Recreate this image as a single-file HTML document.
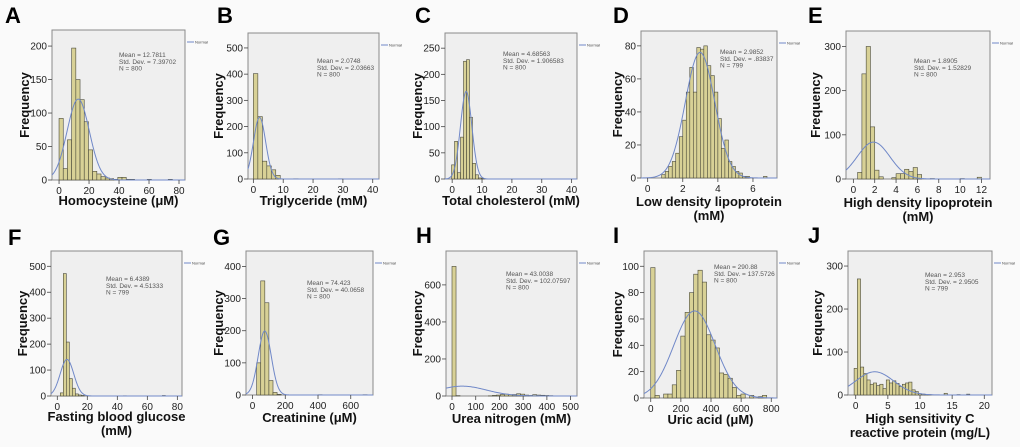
<!DOCTYPE html>
<html><head><meta charset="utf-8">
<style>
html,body{margin:0;padding:0;background:#fafafa;}
svg{display:block;font-family:"Liberation Sans",Arial,sans-serif;}
</style></head>
<body>
<svg id="fig" width="1020" height="447" viewBox="0 0 1020 447" xmlns="http://www.w3.org/2000/svg"></svg>
<script>
// ---- data arrays ----
const countsA = [92,17,60,197,150,120,87,45,13,9,5,3,2,1,4,4,1,1,0,0,0,1,0,0,0,0,1];
const countsB = [402,238,68,50,35,14,0,0,0,1,0,0,0,0,0,0,0,0,0,1];
const countsC = [27,72,12,80,225,228,118,30,8,2,1];
const countsD = [2,4,7,10,15,25,35,52,67,52,79,78,80,68,62,52,36,18,23,10,7,4,3,1,1,0,0,0,0,1];
const countsE = [15,238,300,118,20,5,0,0,3,12,12,22,17,26,10,0,0,1,0,0,0,0,0,0,1,0,0,0,4];
const countsF = [12,472,208,67,30,8,4,2,0,0,0,0,0,0,0,0,0,0,0,0,0,1,0,0,0,0,0,0,0,0,0,0,0,0,2];
const countsG = [100,355,287,45,8,2,0,0,0,0,0,0,0,0,0,1,0,0,0,0,0,0,0,0,0,0,1];
const countsH = [700,2,0,0,0,0,0,0,0,1,3,5,8,10,7,8,12,10,5,3,7,5,4,3,2];
const countsI = [99,2,0,3,3,10,21,47,65,80,94,97,88,48,44,38,19,18,15,8,2,3,0,2,0,1,2];
const countsJ = [62,270,65,50,35,25,28,22,25,15,35,28,33,27,20,25,28,30,12,8,3,2,1,1,0,0,0,0,4,0,0,0,1,0,0,2];
const meansArr = [12.7811,2.0748,4.68563,2.9852,1.8905,6.4389,74.423,43.0038,290.88,2.953];
const sdArr = [7.39702,2.03663,1.906583,0.83837,1.52829,4.51333,40.0658,102.07597,137.5726,2.9505];
const nArr = [800,800,800,799,800,799,800,800,800,799];
const meanLabels = ["12.7811","2.0748","4.68563","2.9852","1.8905","6.4389","74.423","43.0038","290.88","2.953"];
const sdLabels = ["7.39702","2.03663","1.906583",".83837","1.52829","4.51333","40.0658","102.07597","137.5726","2.9505"];
const xTicksA=[0,20,40,60,80], yTicksA=[0,50,100,150,200];
const xTicksB=[0,10,20,30,40], yTicksB=[0,100,200,300,400,500];
const xTicksC=[0,10,20,30,40], yTicksC=[0,50,100,150,200,250];
const xTicksD=[0,2,4,6], yTicksD=[0,20,40,60,80];
const xTicksE=[0,2,4,6,8,10,12], yTicksE=[0,100,200,300];
const xTicksF=[0,20,40,60,80], yTicksF=[0,100,200,300,400,500];
const xTicksG=[0,200,400,600], yTicksG=[0,100,200,300,400];
const xTicksH=[0,100,200,300,400,500], yTicksH=[0,200,400,600];
const xTicksI=[0,200,400,600,800], yTicksI=[0,20,40,60,80,100];
const xTicksJ=[0,5,10,15,20], yTicksJ=[0,100,200,300];

// ---- layout / config ----
const panels = [
 {k:"A",L:52,T:30,R:185,B:180,x0:-4.7,x1:84,y1:224,bs:0,bw:2.8,c:countsA,xt:xTicksA,yt:yTicksA,sx:67,sy:27,lx:5,ly:23,fx:25,tt:["Homocysteine (μM)"],tb:205},
 {k:"B",L:248,T:33,R:379,B:179,x0:-1.8,x1:42.1,y1:557,bs:0,bw:1.5,c:countsB,xt:xTicksB,yt:yTicksB,sx:69,sy:30,lx:217,ly:23,fx:219,tt:["Triglyceride (mM)"],tb:205},
 {k:"C",L:445,T:33,R:577,B:179,x0:-2.4,x1:41.8,y1:279,bs:-0.2,bw:1.0,c:countsC,xt:xTicksC,yt:yTicksC,sx:58,sy:23,lx:415,ly:23,fx:418,tt:["Total cholesterol (mM)"],tb:205},
 {k:"D",L:641,T:31,R:777,B:178,x0:-0.38,x1:7.37,y1:89,bs:0.8,bw:0.2,c:countsD,xt:xTicksD,yt:yTicksD,sx:79,sy:23,lx:613,ly:23,fx:618,tt:["Low density lipoprotein","(mM)"],tb:206},
 {k:"E",L:846,T:31,R:990,B:179,x0:-0.69,x1:12.8,y1:335,bs:0.4,bw:0.4,c:countsE,xt:xTicksE,yt:yTicksE,sx:68,sy:32,lx:808,ly:23,fx:816,tt:["High density lipoprotein","(mM)"],tb:207},
 {k:"F",L:51,T:251,R:182,B:396,x0:-4.2,x1:83.1,y1:559,bs:2,bw:2,c:countsF,xt:xTicksF,yt:yTicksF,sx:55,sy:30,lx:8,ly:245,fx:23,tt:["Fasting blood glucose","(mM)"],tb:421},
 {k:"G",L:246,T:251,R:373,B:395,x0:-40,x1:736,y1:448,bs:25,bw:25,c:countsG,xt:xTicksG,yt:yTicksG,sx:61,sy:34,lx:213,ly:245,fx:219,tt:["Creatinine (μM)"],tb:422},
 {k:"H",L:446,T:251,R:577,B:396,x0:-25.3,x1:527,y1:783,bs:0,bw:17,c:countsH,xt:xTicksH,yt:yTicksH,sx:60,sy:25,lx:416,ly:243,fx:418,tt:["Urea nitrogen (mM)"],tb:423},
 {k:"I",L:644,T:251,R:777,B:398,x0:-44.7,x1:838,y1:111.6,bs:0,bw:28.5,c:countsI,xt:xTicksI,yt:yTicksI,sx:70,sy:18,lx:613,ly:243,fx:618,tt:["Uric acid (μM)"],tb:424},
 {k:"J",L:848,T:251,R:992,B:395,x0:-1.2,x1:21.2,y1:335,bs:-0.25,bw:0.5,c:countsJ,xt:xTicksJ,yt:yTicksJ,sx:77,sy:26,lx:808,ly:243,fx:818,tt:["High sensitivity C","reactive protein (mg/L)"],tb:423}
];
const NS="http://www.w3.org/2000/svg";
const svg=document.getElementById('fig');
function mk(tag,attrs,parent,text){const e=document.createElementNS(NS,tag);for(const a in attrs)e.setAttribute(a,attrs[a]);if(text!==undefined)e.textContent=text;(parent||svg).appendChild(e);return e;}

panels.forEach((p,i)=>{
  const g=mk('g',{});
  
  
  const X=v=>p.L+(v-p.x0)/(p.x1-p.x0)*(p.R-p.L);
  const Y=v=>p.B-v/p.y1*(p.B-p.T);
  const bg=mk('rect',{x:p.L,y:p.T,width:p.R-p.L,height:p.B-p.T,fill:'#efefef',stroke:'#8a8a8a','stroke-width':1},g);
  
  
  p.c.forEach((v,j)=>{
    if(v<=0)return;
    const x=X(p.bs+j*p.bw), x2=X(p.bs+(j+1)*p.bw);
    const r=mk('rect',{x:x,y:Y(v),width:x2-x,height:p.B-Y(v),fill:'#d8d196',stroke:'#4a4a3a','stroke-width':0.6},g);
    
    
  });
  const m=meansArr[i],s=sdArr[i],n=nArr[i];
  let d='';
  for(let t=0;t<=200;t++){
    const xv=p.x0+(p.x1-p.x0)*t/200;
    const yv=n*p.bw/(s*Math.sqrt(2*Math.PI))*Math.exp(-0.5*((xv-m)/s)**2);
    d+=(t?'L':'M')+X(xv).toFixed(2)+','+Math.max(Y(yv),p.T).toFixed(2);
  }
  const cv=mk('path',{d:d,fill:'none',stroke:'#7088c8','stroke-width':1},g);
  
  
  p.yt.forEach(v=>{
    mk('line',{x1:p.L-4,x2:p.L,y1:Y(v),y2:Y(v),stroke:'#444','stroke-width':0.8},g);
    const t=mk('text',{x:p.L-5,y:Y(v)+3.5,'font-size':10,'text-anchor':'end',fill:'#222'},g,String(v));
    
    
  });
  p.xt.forEach(v=>{
    mk('line',{x1:X(v),x2:X(v),y1:p.B,y2:p.B+4,stroke:'#444','stroke-width':0.8},g);
    const t=mk('text',{x:X(v),y:p.B+14,'font-size':10,'text-anchor':'middle',fill:'#222'},g,String(v));
    
    
  });
  const st=mk('text',{x:p.L+p.sx,y:p.T+p.sy,'font-size':6.5,fill:'#555'},g);
  
  
  ['Mean = '+meanLabels[i],'Std. Dev. = '+sdLabels[i],'N = '+nArr[i]].forEach((s2,k)=>{
    mk('tspan',{x:p.L+p.sx,dy:k?6.8:0},st,s2);
  });
  mk('line',{x1:p.R+2,x2:p.R+9,y1:p.T+12,y2:p.T+12,stroke:'#7088c8','stroke-width':1},g);
  const lg=mk('text',{x:p.R+10,y:p.T+13.5,'font-size':4,fill:'#444'},g,'Normal');
  
  
  const lt=mk('text',{x:p.lx,y:p.ly,'font-size':22,'font-weight':'bold',fill:'#000'},g,p.k);
  
  
  const cy=(p.T+p.B)/2;
  const yt=mk('text',{x:0,y:0,'font-size':13,'font-weight':'bold','text-anchor':'middle',fill:'#111',transform:'translate('+(p.fx+4)+' '+cy+') rotate(-90)'},g,'Frequency');
  
  
  p.tt.forEach((s2,k)=>{
    const xt=mk('text',{x:(p.L+p.R)/2,y:p.tb+k*14,'font-size':13,'font-weight':'bold','text-anchor':'middle',fill:'#111'},g,s2);
    
    
  });
});
</script>
</body></html>
